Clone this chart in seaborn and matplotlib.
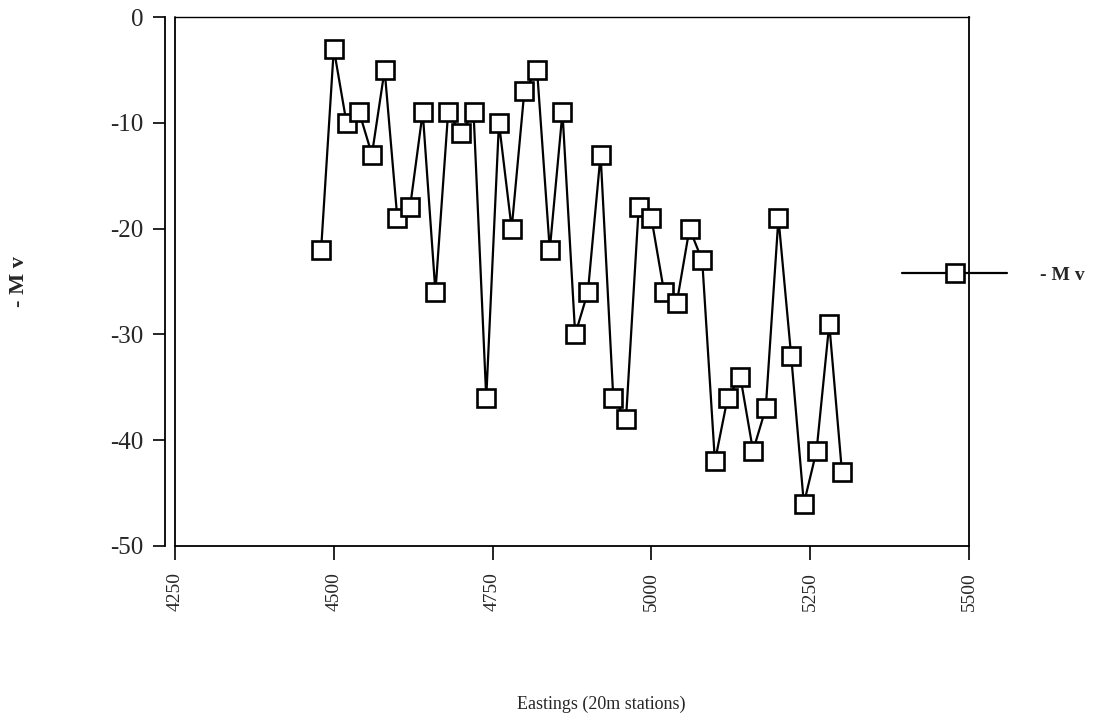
import matplotlib
matplotlib.use("Agg")
import matplotlib.pyplot as plt
import seaborn as sns
import pandas as pd

# Survey stations (20 m spacing) and readings
eastings = list(range(4480, 5301, 20))
millivolts = [-22, -3, -10, -9, -13, -5, -19, -18, -9, -26,
              -9, -11, -9, -36, -10, -20, -7, -5, -22, -9,
              -30, -26, -13, -36, -38, -18, -19, -26, -27, -20,
              -23, -42, -36, -34, -41, -37, -19, -32, -46, -41,
              -29, -43]
x_ticks = [4250, 4500, 4750, 5000, 5250, 5500]
y_ticks = [0, -10, -20, -30, -40, -50]
series_name = "- M v"

df = pd.DataFrame({"Eastings": eastings, "mV": millivolts})

sns.set_style("ticks")
plt.rcParams["font.family"] = ["Liberation Serif", "DejaVu Serif"]

fig = plt.figure(figsize=(11.02, 7.25), dpi=100)
ax = fig.add_axes([175 / 1102, 1 - 546 / 725, 794 / 1102, 529 / 725])

sns.lineplot(data=df, x="Eastings", y="mV", ax=ax, color="black",
             linewidth=1.6, marker="s", markersize=12.5,
             markerfacecolor="white", markeredgecolor="black",
             markeredgewidth=1.9, label=series_name, legend=False)

ax.set_xlim(4250, 5500)
ax.set_ylim(-50, 0)
ax.set_xticks(x_ticks)
ax.set_xticklabels([str(v) for v in x_ticks], rotation=90)
ax.set_yticks(y_ticks)
ax.set_yticklabels([str(v) for v in y_ticks])

ax.tick_params(axis="x", direction="out", length=10, width=1.2, pad=9,
               color="black", labelsize=14)
ax.tick_params(axis="y", direction="out", length=9, width=1.2, pad=7,
               color="black", labelsize=18)

for side in ["top", "right", "bottom", "left"]:
    ax.spines[side].set_color("black")
    ax.spines[side].set_linewidth(1.3)
ax.spines["top"].set_linewidth(1.0)
# double rule on the left: outer spine carries the y ticks
ax.spines["left"].set_position(("outward", 7))
ax.axvline(ax.get_xlim()[0], color="black", linewidth=1.3, clip_on=False)

ax.set_xlabel("Eastings (20m stations)", fontsize=13)
ax.xaxis.set_label_coords(0.537, -0.283)
ax.set_ylabel(series_name, fontsize=16, fontweight="bold")
ax.yaxis.set_label_coords(-0.184, 0.5)

handles, labels = ax.get_legend_handles_labels()
fig.legend(handles, labels, loc="center left",
           bbox_to_anchor=(902 / 1102, 1 - 275 / 725),
           bbox_transform=fig.transFigure, frameon=False,
           borderpad=0, borderaxespad=0, handlelength=5.4,
           handletextpad=1.7, numpoints=1,
           prop={"size": 14, "weight": "bold"})

fig.savefig("out.png", dpi=100)
